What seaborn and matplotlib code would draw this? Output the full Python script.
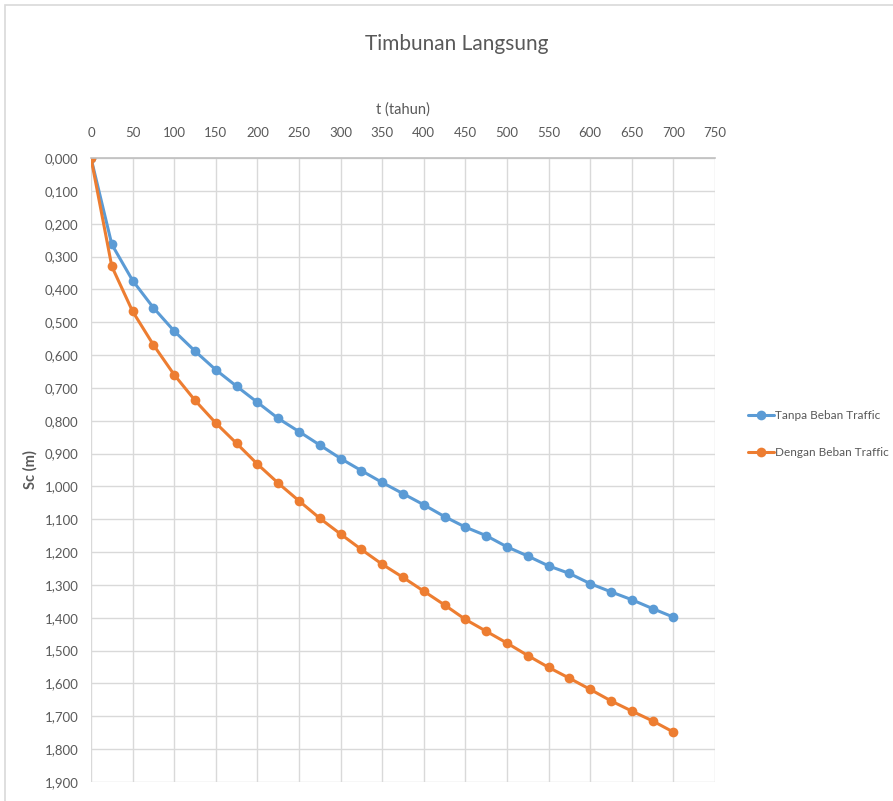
import matplotlib
matplotlib.use("Agg")
import matplotlib.pyplot as plt
import matplotlib.ticker as mticker
from matplotlib.patches import Rectangle
import numpy as np
import pandas as pd
import seaborn as sns

# Time (years) and settlement Sc (m)
t_tahun = [0, 25, 50, 75, 100, 125, 150, 175, 200, 225, 250, 275, 300, 325, 350,
           375, 400, 425, 450, 475, 500, 525, 550, 575, 600, 625, 650, 675, 700]
sc_tanpa = [0.000, 0.263, 0.373, 0.456, 0.527, 0.588, 0.645, 0.695, 0.744, 0.793,
            0.833, 0.874, 0.915, 0.952, 0.988, 1.022, 1.056, 1.092, 1.124, 1.150,
            1.184, 1.212, 1.242, 1.265, 1.296, 1.321, 1.345, 1.372, 1.398]
sc_dengan = [0.000, 0.330, 0.467, 0.569, 0.660, 0.738, 0.807, 0.869, 0.932, 0.990,
             1.044, 1.097, 1.145, 1.192, 1.237, 1.277, 1.319, 1.361, 1.405, 1.441,
             1.477, 1.515, 1.551, 1.584, 1.618, 1.653, 1.684, 1.714, 1.748]
series_names = ["Tanpa Beban Traffic", "Dengan Beban Traffic"]
series_colors = ["#5B9BD5", "#ED7D31"]

df = pd.DataFrame({
    "t": t_tahun * 2,
    "Sc": sc_tanpa + sc_dengan,
    "seri": [series_names[0]] * len(t_tahun) + [series_names[1]] * len(t_tahun),
})

sns.set_theme(style="white")
plt.rcParams["font.family"] = ["Liberation Sans Narrow", "Lato", "DejaVu Sans"]
text_color = "#595959"

fig = plt.figure(figsize=(8.93, 8.01), dpi=100)
ax = fig.add_axes([91 / 893, 1 - 782 / 801, (715 - 91) / 893, (782 - 158) / 801])

sns.lineplot(data=df, x="t", y="Sc", hue="seri", palette=series_colors,
             marker="o", markersize=7, markeredgewidth=0, linewidth=2.2,
             dashes=False, ax=ax, legend=False)

ax.set_xlim(0, 750)
ax.set_ylim(1.9, 0)
ax.xaxis.set_major_locator(mticker.MultipleLocator(50))
ax.yaxis.set_major_locator(mticker.MultipleLocator(0.1))
ax.yaxis.set_major_formatter(
    mticker.FuncFormatter(lambda v, p: f"{v:.3f}".replace(".", ",")))
ax.xaxis.tick_top()
ax.xaxis.set_label_position("top")
ax.tick_params(axis="x", length=0, labelsize=9.5, colors=text_color, pad=14)
ax.tick_params(axis="y", length=0, labelsize=9.5, colors=text_color, pad=9)

ax.grid(True, color="#D9D9D9", linewidth=1.0)
for side in ["right", "bottom", "left"]:
    ax.spines[side].set_visible(False)
ax.spines["top"].set_color("#BFBFBF")
ax.spines["top"].set_linewidth(1.2)

ax.set_xlabel("t (tahun)", fontsize=10.5, color=text_color, labelpad=9)
ax.set_ylabel("Sc (m)", fontsize=10.5, color=text_color, fontweight="bold",
              labelpad=5)

fig.text(457 / 893, 1 - 44 / 801, "Timbunan Langsung", ha="center", va="center",
         fontsize=15, color=text_color)

# Legend on the right
handles = [plt.Line2D([], [], color=c, marker="o", markersize=7,
                      markeredgewidth=0, linewidth=2.2) for c in series_colors]
fig.legend(handles, series_names, loc="center left",
           bbox_to_anchor=(737 / 893, 1 - 434 / 801), frameon=False,
           fontsize=8.5, labelcolor=text_color, handlelength=2.2,
           handletextpad=0.15, labelspacing=2.2)

# Chart area border
fig.patches.append(Rectangle((5 / 893, -0.05), 1.2, 1 - 5 / 801 + 0.05,
                             transform=fig.transFigure, fill=False,
                             edgecolor="#D9D9D9", linewidth=1.2))

fig.savefig("out.png", dpi=100)
